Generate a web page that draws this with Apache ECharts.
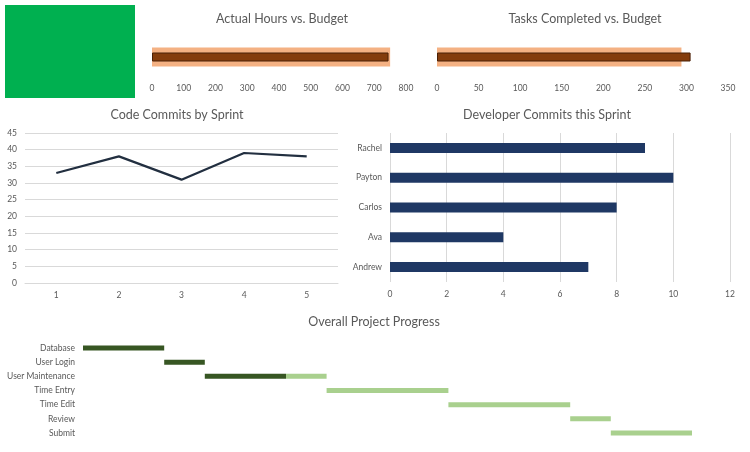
<!DOCTYPE html>
<html><head><meta charset="utf-8">
<script src="https://cdn.jsdelivr.net/npm/echarts@6/dist/echarts.min.js"></script>
<style>html,body{margin:0;padding:0;background:#fff}#c{width:750px;height:452px}</style>
</head><body><div id="c"></div>
<script>
const hoursActual = [745];
const hoursBudget = [750];
const tasksActual = [305];
const tasksBudget = [294];
const sprints = ['1','2','3','4','5'];
const sprintCommits = [33,38,31,39,38];
const developers = ['Andrew','Ava','Carlos','Payton','Rachel'];
const devCommits = [7,4,8,10,9];
const tasks = ['Database','User Login','User Maintenance','Time Entry','Time Edit','Review','Submit'];
const taskStart = [0,2,3,6,9,12,13];
const taskDone = [2,1,2,0,0,0,0];
const taskRemaining = [0,0,1,3,3,1,2];

const FONT = 'Lato';
const lab = {color:'#595959', fontSize:8.5, fontFamily:FONT};
const ttl = (text, x, y) => ({text, left:x, top:y, textAlign:'center',
  textStyle:{color:'#595959', fontSize:12.5, fontWeight:'normal', fontFamily:FONT}});
const grid = '#d9d9d9';
const hid = (gi, name) => ({gridIndex:gi, type:'category', data:[name], show:false});

const chart = echarts.init(document.getElementById('c'));
chart.setOption({
  backgroundColor:'#fff',
  animation:false,
  graphic:[{type:'rect', shape:{x:5,y:5,width:130,height:93}, style:{fill:'#00B050'}}],
  title:[
    ttl('Actual Hours vs. Budget', 277, 7),
    ttl('Tasks Completed vs. Budget', 580, 7),
    ttl('Code Commits by Sprint', 172, 103),
    ttl('Developer Commits this Sprint', 542, 103),
    ttl('Overall Project Progress', 369, 310)
  ],
  grid:[
    {left:152, right:344, top:45, height:24},
    {left:437, right:22, top:45, height:24},
    {left:25, right:412, top:133, bottom:169},
    {left:390, right:20, top:133, bottom:170},
    {left:83, right:58, top:341, bottom:12}
  ],
  xAxis:[
    {gridIndex:0, type:'value', min:0, max:800, interval:100, axisLine:{show:false}, axisTick:{show:false}, splitLine:{show:false}, axisLabel:Object.assign({margin:15}, lab)},
    {gridIndex:1, type:'value', min:0, max:350, interval:50, axisLine:{show:false}, axisTick:{show:false}, splitLine:{show:false}, axisLabel:Object.assign({margin:15}, lab)},
    {gridIndex:2, type:'category', data:sprints, boundaryGap:true, axisLine:{lineStyle:{color:grid}}, axisTick:{show:false}, axisLabel:Object.assign({margin:8}, lab)},
    {gridIndex:3, type:'value', min:0, max:12, interval:2, axisLine:{show:false}, axisTick:{show:false}, splitLine:{lineStyle:{color:grid}}, axisLabel:Object.assign({margin:8}, lab)},
    {gridIndex:4, type:'value', min:0, max:15, show:false}
  ],
  yAxis:[
    hid(0,'Hours'),
    hid(0,'Hours'),
    hid(1,'Tasks'),
    hid(1,'Tasks'),
    {gridIndex:2, type:'value', min:0, max:45, interval:5, axisLine:{show:false}, axisTick:{show:false}, splitLine:{lineStyle:{color:grid}}, axisLabel:Object.assign({margin:8}, lab)},
    {gridIndex:3, type:'category', data:developers, axisLine:{show:false}, axisTick:{show:false}, axisLabel:Object.assign({margin:8}, lab)},
    {gridIndex:4, type:'category', data:tasks, inverse:true, axisLine:{show:false}, axisTick:{show:false}, splitLine:{show:false}, axisLabel:Object.assign({margin:8}, lab)}
  ],
  series:[
    {type:'bar', xAxisIndex:0, yAxisIndex:0, data:hoursBudget, barWidth:19, itemStyle:{color:'#F4B183'}, z:1},
    {type:'bar', xAxisIndex:0, yAxisIndex:1, data:hoursActual, barWidth:9, itemStyle:{color:'#843C0C', borderColor:'#4a2006', borderWidth:1}, z:2},
    {type:'bar', xAxisIndex:1, yAxisIndex:2, data:tasksBudget, barWidth:19, itemStyle:{color:'#F4B183'}, z:1},
    {type:'bar', xAxisIndex:1, yAxisIndex:3, data:tasksActual, barWidth:9, itemStyle:{color:'#843C0C', borderColor:'#4a2006', borderWidth:1}, z:2},
    {type:'line', xAxisIndex:2, yAxisIndex:4, data:sprintCommits, symbol:'none', lineStyle:{color:'#222f40', width:2.25}},
    {type:'bar', xAxisIndex:3, yAxisIndex:5, data:devCommits, barWidth:10, itemStyle:{color:'#1F3864'}},
    {type:'bar', xAxisIndex:4, yAxisIndex:6, stack:'g', data:taskStart, barWidth:5, itemStyle:{color:'transparent'}},
    {type:'bar', xAxisIndex:4, yAxisIndex:6, stack:'g', data:taskDone, barWidth:5, itemStyle:{color:'#375623'}},
    {type:'bar', xAxisIndex:4, yAxisIndex:6, stack:'g', data:taskRemaining, barWidth:5, itemStyle:{color:'#A9D08E'}}
  ]
});
</script></body></html>
